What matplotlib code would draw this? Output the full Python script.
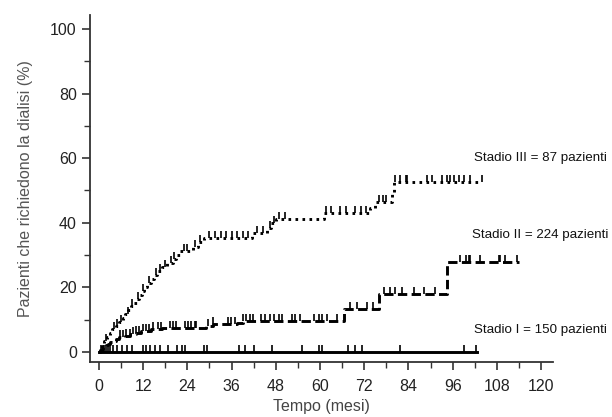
import numpy as np
import matplotlib
matplotlib.use('Agg')
import matplotlib.pyplot as plt

plt.rcParams['font.family'] = ['Liberation Sans', 'DejaVu Sans']

# Stadio III (87 pazienti): step times (mesi) and cumulative % requiring dialysis
t3 = [0, 0.3, 0.8, 1.5, 2.2, 3, 3.6, 4.5, 5.5, 6.5, 7.2, 8, 8.8, 9.5, 10.2, 11, 11.6,
      12.3, 13, 14, 15, 15.8, 17, 18.5, 20, 21, 22, 25.5, 27, 28.5, 41.5, 45.5, 46.8,
      48, 61, 73.5, 75, 79.5, 80, 104]
v3 = [0, 1.2, 2.3, 3.5, 4.6, 5.8, 7, 8.1, 9.3, 10.5, 11.7, 12.9, 14.1, 15.3, 16.5, 17.7,
      18.9, 20.1, 21.3, 22.5, 23.7, 25, 26.2, 27.4, 28.7, 30, 31.3, 32.6, 33.9, 35.3, 36.8,
      38.3, 39.8, 41.3, 43, 44.7, 46.3, 49.5, 52.7, 52.7]
c3 = [2, 4, 5, 6, 7.8, 9, 10.5, 12, 13.5, 15.5, 16.5, 18, 19.5, 20.5, 23, 24, 26, 27.5,
      30, 31.5, 33, 34.5, 36, 37.5, 39, 40.5, 43, 44.5, 46.5, 47.5, 49, 50.5, 61.5, 63,
      65.5, 67, 69.5, 71, 72.5, 76, 77, 78, 80.4, 81.8, 83.2, 83.6, 89, 90.4, 93.1, 94.5,
      95.4, 96.3, 97.6, 99, 100.8, 104]

# Stadio II (224 pazienti)
t2 = [0, 0.3, 0.7, 1.2, 1.8, 2.5, 3, 3.8, 4.5, 5.5, 7, 8.5, 10, 11.5, 14, 17, 29, 31,
      37.5, 39, 66.5, 76, 94.5, 114]
v2 = [0, 0.5, 1, 1.5, 2, 2.5, 3, 3.5, 4, 4.5, 5, 5.5, 6, 6.5, 7, 7.5, 8, 8.5, 9, 9.5,
      13.4, 17.8, 27.8, 27.8]
c2 = [5.6, 6.5, 7.4, 8.3, 9.2, 10.1, 11, 11.9, 12.8, 13.7, 14.7, 16, 16.9, 19.2, 20.1,
      21, 23.3, 24.2, 25.1, 26, 26.4, 29.6, 31, 35, 35.9, 36.8, 39.1, 40, 40.9, 41.8,
      44.1, 45, 46.3, 47.4, 48.8, 49.7, 52.4, 53.3, 54.7, 58.3, 59.6, 60.5, 61.9, 64.6,
      68.2, 70, 72.7, 74.5, 77.3, 79, 80.4, 82.2, 85.4, 88.1, 91.3, 98.1, 99.5, 100.4,
      100.8, 103.5, 108.5, 108.9, 110.3, 113.5]

# Stadio I (150 pazienti)
t1 = [0, 102.5]
v1 = [0, 0]
c1 = [0.5, 1, 1.5, 2, 2.5, 3, 3.9, 4.8, 6.2, 7.5, 8.9, 12, 12.9, 13.9, 15.2, 16.6, 18.8,
      21.1, 22.5, 23.4, 28.4, 29.3, 37.9, 39.7, 42, 46.9, 55.1, 59.6, 60.5, 67.7, 69.6,
      71.4, 81.8, 99, 102.2]

labels = ['Stadio III = 87 pazienti', 'Stadio II = 224 pazienti', 'Stadio I = 150 pazienti']
label_pos = [(101.8, 60), (101.3, 36.2), (101.8, 6.8)]


def censor_y(t, v, c):
    # value of the step curve at each censoring time
    idx = np.searchsorted(t, c, side='right') - 1
    return np.array(v)[idx]


tick_marker = [(0, 0), (0, 1)]

fig = plt.figure(figsize=(6.12, 4.17), dpi=100)
ax = fig.add_axes([0.147, 0.132, 0.757, 0.832])

curves = [(t3, v3, c3, (0, (0.9, 1.5))), (t2, v2, c2, (0, (3.2, 1.5))), (t1, v1, c1, '-')]
for t, v, c, ls in curves:
    ax.step(t, v, where='post', color='black', linewidth=2.1, linestyle=ls)
    ax.plot(c, censor_y(t, v, c), linestyle='none', marker=tick_marker,
            markersize=10, markeredgewidth=1.2, color='black', markerfacecolor='none')

for lab, (x, y) in zip(labels, label_pos):
    ax.text(x, y, lab, fontsize=9.6, color='#111111', va='center', ha='left')

ax.set_xlim(-2.44, 123.3)
ax.set_ylim(-3.1, 104.3)
ax.set_xticks(np.arange(0, 121, 12))
ax.set_xticks(np.arange(6, 121, 12), minor=True)
ax.set_yticks(np.arange(0, 101, 20))
ax.set_yticks(np.arange(10, 100, 20), minor=True)
ax.tick_params(which='major', direction='out', length=6, width=1.2, labelsize=11.5,
               labelcolor='#222222', color='#333333')
ax.tick_params(which='minor', direction='out', length=4, width=1.0, color='#333333')
ax.tick_params(axis='x', pad=6)

for side in ['top', 'right']:
    ax.spines[side].set_visible(False)
for side in ['left', 'bottom']:
    ax.spines[side].set_linewidth(1.3)
    ax.spines[side].set_color('#333333')

ax.set_xlabel('Tempo (mesi)', fontsize=11.5, color='#444444', labelpad=4)
ax.set_ylabel('Pazienti che richiedono la dialisi (%)', fontsize=11.5, color='#555555',
              labelpad=12)

fig.savefig('out.png', dpi=100)
